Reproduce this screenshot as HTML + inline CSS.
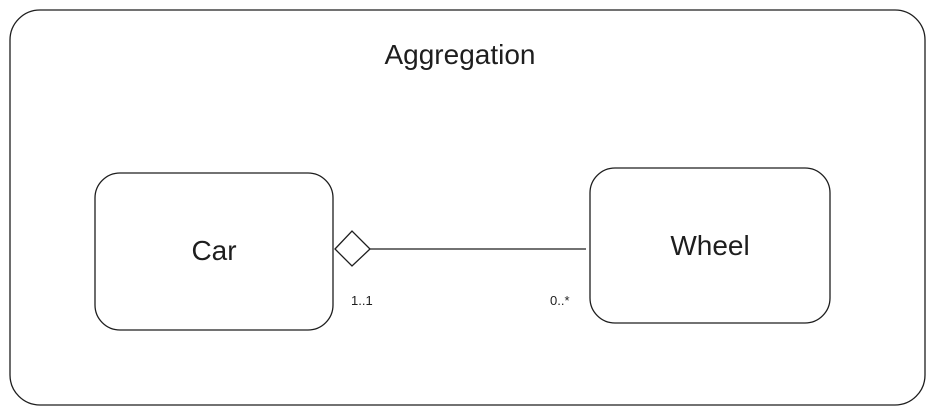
<!DOCTYPE html>
<html><head><meta charset="utf-8"><style>
html,body{margin:0;padding:0;background:#fff;}
svg{display:block;}
text{font-family:"Liberation Sans",sans-serif;fill:#1e1e1e;}
</style></head><body>
<svg width="935" height="414" viewBox="0 0 935 414">
  <rect x="10" y="10" width="915" height="395" rx="30" fill="none" stroke="#1e1e1e" stroke-width="1.3"/>
  <text x="460" y="64" font-size="28" text-anchor="middle">Aggregation</text>
  <rect x="95" y="173" width="238" height="157" rx="25" fill="none" stroke="#1e1e1e" stroke-width="1.3"/>
  <text x="214" y="260" font-size="28" text-anchor="middle">Car</text>
  <rect x="590" y="168" width="240" height="155" rx="25" fill="none" stroke="#1e1e1e" stroke-width="1.3"/>
  <text x="710" y="255" font-size="28" text-anchor="middle">Wheel</text>
  <polygon points="335,249 352,231 370,249 352,266" fill="#fff" stroke="#1e1e1e" stroke-width="1.3"/>
  <line x1="370" y1="249" x2="586" y2="249" stroke="#1e1e1e" stroke-width="1.3"/>
  <text x="351" y="305" font-size="13">1..1</text>
  <text x="550" y="305" font-size="13">0..*</text>
</svg>
</body></html>
